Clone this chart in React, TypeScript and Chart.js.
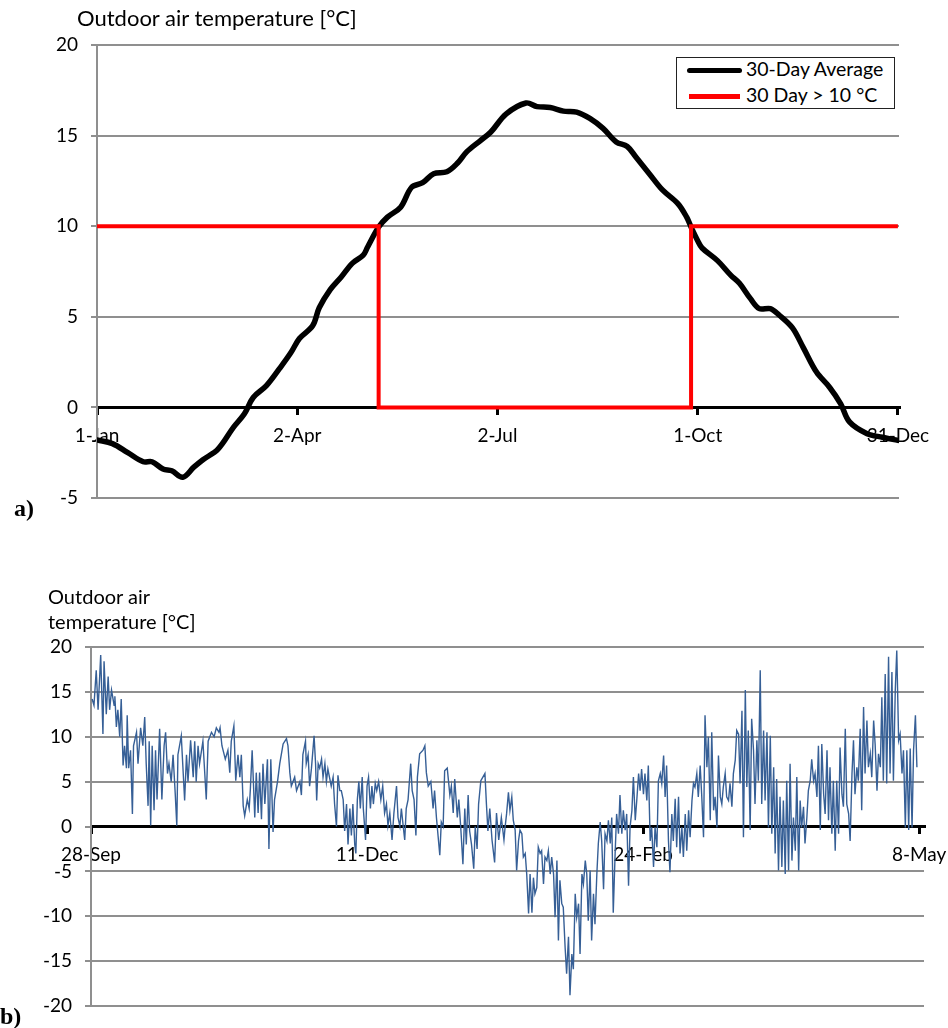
import React, { useEffect, useRef } from "react";
import { Chart, registerables } from "chart.js";

Chart.register(...registerables);

const FONT = "Lato, 'DejaVu Sans', sans-serif";
const GRID = "#8f8f8f";

// ---------- Chart a: 30-day running average over one year ----------
const yearTickDays = [0, 91, 182, 273, 364];
const yearTickLabels = ["1-Jan", "2-Apr", "2-Jul", "1-Oct", "31-Dec"];

const avgDays = [
  0, 7, 14, 21, 25, 30, 34, 39, 44, 48,
  55, 62, 67, 71, 77, 83, 88, 92, 98, 101,
  106, 111, 116, 121, 123, 128, 132, 138, 143, 148,
  153, 159, 164, 168, 174, 179, 186, 195, 200, 206,
  212, 218, 224, 230, 236, 241, 245, 251, 257, 264,
  268, 270, 273, 275, 282, 288, 292, 297, 301, 306,
  310, 316, 321, 327, 333, 338, 342, 350, 357, 364,
];
const avgTemps = [
  -1.8, -2.0, -2.5, -3.0, -3.0, -3.4, -3.5, -3.85, -3.3, -2.9,
  -2.3, -1.1, -0.35, 0.55, 1.2, 2.15, 3.0, 3.8, 4.5, 5.5,
  6.5, 7.2, 7.95, 8.4, 8.85, 9.95, 10.5, 11.05, 12.15, 12.4,
  12.9, 13.0, 13.5, 14.1, 14.7, 15.2, 16.2, 16.8, 16.6, 16.55,
  16.35, 16.3, 15.95, 15.4, 14.65, 14.4, 13.8, 12.9, 12.0, 11.25,
  10.5, 9.95, 9.2, 8.8, 8.1, 7.3, 6.85, 6.0, 5.45, 5.45,
  5.1, 4.4, 3.3, 1.95, 1.1, 0.2, -0.8, -1.45, -1.65, -1.82,
];
const thresholdDays = [0, 128, 128, 270, 270, 364];
const thresholdTemps = [10, 10, 0, 0, 10, 10];

// ---------- Chart b: measured outdoor temperature, 28-Sep .. 8-May ----------
const winterTickDays = [0, 74, 148, 222];
const winterTickLabels = ["28-Sep", "11-Dec", "24-Feb", "8-May"];

const measDays = [
  0.3, 0.8, 1.4, 1.9, 2.6, 3.2, 3.5, 4.1, 4.6, 5.0,
  5.5, 6.2, 6.4, 6.8, 7.2, 7.7, 8.1, 8.6, 9.0, 9.5,
  9.7, 10.1, 10.6, 11.1, 11.4, 12.2, 12.6, 13.3, 13.9, 14.4,
  14.8, 15.3, 15.6, 16.0, 16.4, 16.9, 17.3, 17.7, 18.4, 19.0,
  19.6, 20.0, 20.5, 20.9, 21.5, 22.0, 22.6, 23.0, 23.3, 24.2,
  25.1, 25.6, 26.0, 26.7, 27.4, 27.8, 28.2, 28.7, 29.1, 30.0,
  30.9, 31.4, 32.3, 33.0, 33.6, 34.3, 34.6, 35.1, 36.0, 36.7,
  37.2, 37.6, 38.3, 38.8, 39.4, 39.9, 40.3, 40.8, 41.2, 41.9,
  42.4, 42.7, 43.2, 43.9, 44.3, 44.8, 45.2, 45.7, 46.1, 46.6,
  47.3, 47.7, 48.2, 48.8, 49.2, 50.0, 50.6, 51.5, 52.4, 52.8,
  53.3, 53.7, 54.6, 55.1, 56.0, 56.4, 56.8, 57.5, 57.7, 58.2,
  58.6, 59.1, 59.8, 60.2, 60.5, 60.9, 61.3, 61.8, 62.2, 62.7,
  63.1, 63.5, 64.4, 64.9, 65.3, 65.8, 66.2, 66.7, 67.1, 67.6,
  68.0, 68.5, 68.9, 69.4, 69.8, 70.2, 70.7, 71.0, 71.4, 71.8,
  72.2, 72.7, 73.0, 73.6, 74.0, 74.4, 74.9, 75.3, 75.7, 76.2,
  76.6, 77.1, 77.7, 78.2, 78.7, 79.2, 79.6, 80.1, 80.7, 81.2,
  81.9, 82.3, 82.8, 83.2, 83.7, 84.1, 84.5, 85.0, 85.7, 86.1,
  86.6, 87.1, 87.5, 88.1, 89.0, 89.5, 89.9, 90.4, 91.1, 91.7,
  92.1, 92.6, 93.5, 93.9, 94.4, 94.8, 95.5, 96.2, 96.6, 97.1,
  97.5, 98.2, 98.6, 99.1, 99.7, 100.2, 100.6, 101.1, 101.5, 102.0,
  102.6, 103.0, 103.5, 103.9, 104.5, 105.6, 106.0, 106.4, 106.9, 107.5,
  108.2, 108.7, 109.3, 110.0, 110.7,
  111.0, 111.4, 111.9, 112.3, 112.8, 113.2, 113.7, 114.1, 114.6, 115.0,
  115.5, 115.9, 116.4, 116.8, 117.3, 117.7, 118.2, 118.6, 119.0, 119.5,
  119.9, 120.4, 120.8, 121.3, 121.7, 122.2, 122.6, 123.1, 123.5, 124.0,
  124.4, 124.9, 125.3, 125.7, 126.2, 126.6, 127.1, 127.5, 128.0, 128.4,
  128.9, 129.3, 129.8, 130.2, 130.7, 131.1, 131.6, 132.0, 132.5, 132.9,
  133.3, 133.8, 134.2, 134.7, 135.1, 135.6, 136.0, 136.5, 136.9, 137.4,
  137.8, 138.3, 138.7, 139.2, 139.6, 140.0, 140.5, 140.9, 141.4, 141.8,
  142.3, 142.7, 143.2, 143.6, 144.1, 144.5, 145.0, 145.4, 145.9, 146.3,
  146.8, 147.2, 147.6, 148.1, 148.5, 149.0, 149.4, 149.9, 150.3, 150.8,
  151.2, 151.7, 152.1, 152.6, 153.0, 153.5, 153.9, 154.3, 154.8, 155.2,
  155.7, 156.1, 156.6, 157.0, 157.5, 157.9, 158.4, 158.8, 159.3, 159.7,
  160.2, 160.6, 161.1, 161.5, 161.9, 162.4, 162.8, 163.3, 163.7, 164.2,
  164.6, 165.1, 165.5, 166.0, 166.4, 166.9, 167.3, 167.8, 168.2, 168.7,
  169.1, 169.5, 170.0, 170.4, 170.9, 171.3, 171.8, 172.2, 172.7, 173.1,
  173.6, 174.0, 174.5, 174.9, 175.4, 175.8, 176.2, 176.7, 177.1, 177.6,
  178.0, 178.5, 178.9, 179.4, 179.8, 180.3, 180.7, 181.2, 181.6, 182.1,
  182.5, 183.0, 183.4, 183.8, 184.3, 184.7, 185.2, 185.6, 186.1, 186.5,
  187.0, 187.4, 187.9, 188.3, 188.8, 189.2, 189.7, 190.1, 190.5, 191.0,
  191.4, 191.9, 192.3, 192.8, 193.2, 193.7, 194.1, 194.6, 195.0, 195.5,
  195.9, 196.4, 196.8, 197.3, 197.7, 198.1, 198.6, 199.0, 199.5, 199.9,
  200.4, 200.8, 201.3, 201.7, 202.2, 202.6, 203.1, 203.5, 204.0, 204.4,
  204.8, 205.3, 205.7, 206.2, 206.6, 207.1, 207.5, 208.0, 208.4, 208.9,
  209.3, 209.8, 210.2, 210.7, 211.1, 211.6, 212.0, 212.4, 212.9, 213.3,
  213.8, 214.2, 214.7, 215.1, 215.6, 216.0, 216.5, 216.9, 217.4, 217.8,
  218.3, 218.7, 219.2, 219.6, 220.1, 220.5, 221.0, 221.4,
];
const measTemps = [
  14.2, 13.5, 17.4, 13.0, 19.1, 10.3, 18.4, 12.5, 16.7, 13.0,
  15.2, 13.5, 14.5, 11.1, 13.0, 10.0, 14.2, 6.8, 9.0, 6.5,
  12.4, 6.5, 8.5, 1.4, 9.0, 10.5, 7.0, 11.0, 9.0, 12.2,
  7.0, 2.3, 9.5, 0.1, 9.0, 1.8, 8.5, 3.0, 10.9, 3.0,
  9.0, 10.5, 5.9, 7.0, 5.0, 8.0, 3.5, 0.1, 8.0, 10.1,
  2.9, 8.0, 5.0, 9.6, 5.5, 9.5, 5.0, 9.0, 7.0, 9.5,
  3.0, 9.5, 10.5, 10.0, 11.0, 10.5, 11.0, 9.0, 7.5, 8.5,
  6.0, 9.5, 11.2, 5.1, 8.0, 5.5, 8.0, 2.3, 1.2, 3.0,
  2.0, 4.0, 8.5, 1.0, 6.0, 1.5, 6.0, 0.8, 7.0, 2.5,
  7.5, -2.5, 7.5, -0.6, 3.0, 5.0, 7.0, 9.2, 9.8, 9.0,
  6.0, 4.5, 5.5, 4.0, 5.0, 3.5, 8.0, 9.5, 7.0, 8.0,
  4.5, 6.5, 10.1, 7.0, 2.9, 7.0, 6.5, 7.5, 5.5, 7.0,
  5.0, 6.4, 4.5, 5.5, 2.5, 0.0, 5.7, 4.0, 4.0, 3.0,
  -0.5, 2.5, -2.0, 2.0, -1.0, 2.5, -2.0, -3.0, 3.0, 5.0,
  2.0, 5.5, 2.0, -1.5, 4.5, 5.5, 2.0, 4.5, 2.5, 4.8,
  4.0, 5.0, 3.0, 4.5, 1.5, 2.5, 0.1, 1.5, -1.5, 1.5,
  4.5, 1.0, 0.0, 2.0, 0.0, -1.5, 2.0, 3.0, 7.0, 4.0,
  3.0, -1.0, 5.5, 8.1, 8.5, 9.0, 6.0, 4.5, 5.0, 2.0,
  4.0, 1.0, -3.2, 0.5, 0.0, 6.2, 6.5, 3.5, 4.5, 1.5,
  5.3, 1.0, 3.0, 0.0, -4.2, 2.0, -2.0, 3.5, -0.5, -2.0,
  -4.7, 0.0, -2.5, 2.5, 5.1, 5.9, 2.5, -0.5, 2.0, -1.5,
  -4.0, 1.5, -1.5, 1.0, -1.5,
  -0.1, 1.4, 3.8, 1.8, 3.3, 0.7, -0.4, -4.9, -1.6, -0.4,
  -0.8, -3.4, -3.0, -5.3, -9.7, -5.3, -9.6, -5.7, -7.5, -6.8,
  -2.3, -3.0, -2.7, -6.4, -3.4, -3.8, -2.7, -5.3, -3.4, -5.3,
  -10.1, -3.8, -12.7, -6.0, -8.6, -9.0, -13.5, -16.4, -12.3, -18.8,
  -14.2, -15.9, -7.5, -10.1, -8.6, -14.2, -5.3, -6.4, -3.8, -5.3,
  -10.5, -4.9, -12.7, -7.5, -10.9, -5.3, -1.9, 0.5, -1.6, -7.0,
  -0.8, -1.6, 0.7, -1.9, 1.0, -9.6, -3.0, 1.4, -0.8, 3.5,
  -0.8, 1.8, -0.4, 1.4, -6.6, -0.1, 1.8, 5.5, 0.7, 2.9,
  5.9, 4.0, 6.4, 3.6, 5.9, 2.9, 6.8, -1.6, -0.1, -4.5,
  -0.1, -2.3, 5.1, 5.9, 4.8, 7.9, 3.3, 6.8, -1.6, -5.1,
  1.4, -1.6, 3.1, -2.3, 3.3, -3.0, -0.1, -3.4, 1.4, -2.7,
  1.8, -1.2, 2.9, 4.8, 4.4, 5.9, 3.3, 6.8, 3.6, -1.2,
  12.4, 6.6, 10.0, 0.7, 10.5, 1.8, 3.3, -0.1, 7.9, 3.3,
  2.5, 4.4, 5.9, 3.3, 2.9, 4.8, 2.2, 5.9, 7.4, 10.7,
  10.3, 4.8, 12.9, -1.2, 15.2, 4.4, 10.7, -0.4, 12.0, 8.5,
  2.5, 9.6, 5.1, 17.4, 2.5, 10.7, 2.9, 10.5, -0.1, 10.1,
  -0.8, 6.6, -3.0, 5.3, -4.9, 3.3, -4.5, 2.9, -5.3, 5.1,
  -4.9, 7.0, -3.8, 1.0, -2.7, 5.5, -4.9, 2.9, -0.1, 2.2,
  -1.9, 1.0, 4.0, 5.1, 7.5, 5.1, 5.9, 3.3, 9.0, -0.4,
  9.2, 3.6, 1.4, 8.5, 0.7, 6.6, -0.8, 5.1, -2.7, 5.1,
  -0.8, 8.8, 3.6, 2.2, 10.9, 2.5, 1.4, -1.6, 5.9, 9.6,
  3.6, 6.6, 5.1, 10.9, 1.8, 13.3, 5.9, 11.8, 6.6, 8.1,
  5.5, 11.8, 9.2, 4.0, 8.1, 6.6, 14.4, 5.1, 17.0, 4.8,
  18.9, 5.9, 17.2, 5.1, 15.2, 19.6, 9.6, 10.3, 5.9, 8.5,
  -0.1, 8.5, -0.4, 8.7, -0.1, 8.5, 12.4, 6.6,
];

function toPoints(xs: number[], ys: number[]) {
  const n = Math.min(xs.length, ys.length);
  const out: { x: number; y: number }[] = [];
  for (let i = 0; i < n; i++) out.push({ x: xs[i], y: ys[i] });
  return out;
}

function xAxis(min: number, max: number, tickDays: number[], tickLabels: string[]) {
  return {
    type: "linear",
    position: { y: 0 },
    min,
    max,
    afterBuildTicks: (scale: any) => {
      scale.ticks = tickDays.map((value) => ({ value }));
    },
    afterFit: (scale: any) => {
      scale.paddingLeft = 0;
      scale.paddingRight = 0;
      scale.paddingTop = 0;
      scale.paddingBottom = 0;
    },
    ticks: {
      autoSkip: false,
      maxRotation: 0,
      minRotation: 0,
      padding: 11,
      color: "#000",
      font: { family: FONT, size: 19 },
      callback: (v: any) => {
        const i = tickDays.indexOf(Number(v));
        return i >= 0 ? tickLabels[i] : "";
      },
    },
    grid: {
      drawOnChartArea: false,
      drawTicks: true,
      tickLength: 6,
      color: "#000",
      lineWidth: 3,
    },
    border: { display: true, color: "#000", width: 3 },
  };
}

function yAxis(min: number, max: number, width: number) {
  return {
    type: "linear",
    min,
    max,
    afterFit: (scale: any) => {
      scale.width = width;
      scale.paddingTop = 0;
      scale.paddingBottom = 0;
    },
    ticks: {
      stepSize: 5,
      padding: 13,
      color: "#000",
      font: { family: FONT, size: 19 },
    },
    grid: {
      color: (ctx: any) => (ctx.tick && ctx.tick.value === 0 ? "rgba(0,0,0,0)" : GRID),
      tickColor: GRID,
      lineWidth: 2,
      tickLength: 6,
      drawTicks: true,
    },
    border: { display: true, color: GRID, width: 2 },
  };
}

function ChartA() {
  const ref = useRef<HTMLCanvasElement | null>(null);
  useEffect(() => {
    if (!ref.current) return;
    const chart = new Chart(ref.current, {
      type: "line",
      data: {
        datasets: [
          {
            label: "30-Day Average",
            data: toPoints(avgDays, avgTemps),
            borderColor: "#000",
            borderWidth: 5.5,
            pointRadius: 0,
            tension: 0.35,
            borderCapStyle: "round",
            borderJoinStyle: "round",
            order: 1,
          },
          {
            label: "30 Day > 10 °C",
            data: toPoints(thresholdDays, thresholdTemps),
            borderColor: "#ff0000",
            borderWidth: 4,
            pointRadius: 0,
            tension: 0,
            order: 0,
          },
        ],
      },
      options: {
        animation: false,
        responsive: false,
        devicePixelRatio: 1,
        layout: { padding: { top: 45, right: 49, bottom: 32, left: 0 } },
        plugins: { legend: { display: false }, tooltip: { enabled: false } },
        scales: {
          x: xAxis(0, 364.5, yearTickDays, yearTickLabels),
          y: yAxis(-5, 20, 97),
        },
      } as any,
    });
    return () => chart.destroy();
  }, []);
  return (
    <canvas
      ref={ref}
      width={948}
      height={530}
      style={{ position: "absolute", left: 0, top: 0, width: 948, height: 530 }}
    />
  );
}

function ChartB() {
  const ref = useRef<HTMLCanvasElement | null>(null);
  useEffect(() => {
    if (!ref.current) return;
    const chart = new Chart(ref.current, {
      type: "line",
      data: {
        datasets: [
          {
            label: "Outdoor air temperature",
            data: toPoints(measDays, measTemps),
            borderColor: "#365f96",
            borderWidth: 1.4,
            pointRadius: 0,
            tension: 0,
          },
        ],
      },
      options: {
        animation: false,
        responsive: false,
        devicePixelRatio: 1,
        layout: { padding: { top: 107, right: 24, bottom: 22, left: 0 } },
        plugins: { legend: { display: false }, tooltip: { enabled: false } },
        scales: {
          x: xAxis(0, 223.3, winterTickDays, winterTickLabels),
          y: yAxis(-20, 20, 91),
        },
      } as any,
    });
    return () => chart.destroy();
  }, []);
  return (
    <canvas
      ref={ref}
      width={948}
      height={488}
      style={{ position: "absolute", left: 0, top: 540, width: 948, height: 488 }}
    />
  );
}

const textStyle = (left: number, top: number, size: number, extra: any = {}) => ({
  position: "absolute" as const,
  left,
  top,
  fontFamily: FONT,
  fontSize: size,
  lineHeight: 1.2,
  whiteSpace: "nowrap" as const,
  color: "#000",
  ...extra,
});

export default function App() {
  return (
    <div
      style={{
        position: "absolute",
        left: 0,
        top: 0,
        width: 948,
        height: 1028,
        background: "#fff",
        overflow: "hidden",
      }}
    >
      <ChartA />
      <ChartB />

      <div style={textStyle(77, 5, 22)}>Outdoor air temperature [°C]</div>

      <div
        style={{
          position: "absolute",
          left: 676,
          top: 57,
          width: 219,
          height: 52,
          boxSizing: "border-box",
          border: "1px solid #222",
          background: "#fff",
        }}
      />
      <div
        style={{
          position: "absolute",
          left: 687,
          top: 68,
          width: 55,
          height: 5,
          borderRadius: 3,
          background: "#000",
        }}
      />
      <div style={textStyle(746, 57, 19.5)}>30-Day Average</div>
      <div
        style={{
          position: "absolute",
          left: 689,
          top: 94,
          width: 51,
          height: 5,
          background: "#ff0000",
        }}
      />
      <div style={textStyle(746, 83, 19.5)}>30 Day &gt; 10 °C</div>

      <div
        style={textStyle(14, 494, 24, {
          fontFamily: "'Liberation Serif', 'DejaVu Serif', serif",
          fontWeight: "bold",
        })}
      >
        a)
      </div>

      <div style={textStyle(48, 584, 20)}>Outdoor air</div>
      <div style={textStyle(48, 609, 20)}>temperature [°C]</div>

      <div
        style={textStyle(0, 1002, 24, {
          fontFamily: "'Liberation Serif', 'DejaVu Serif', serif",
          fontWeight: "bold",
        })}
      >
        b)
      </div>
    </div>
  );
}
